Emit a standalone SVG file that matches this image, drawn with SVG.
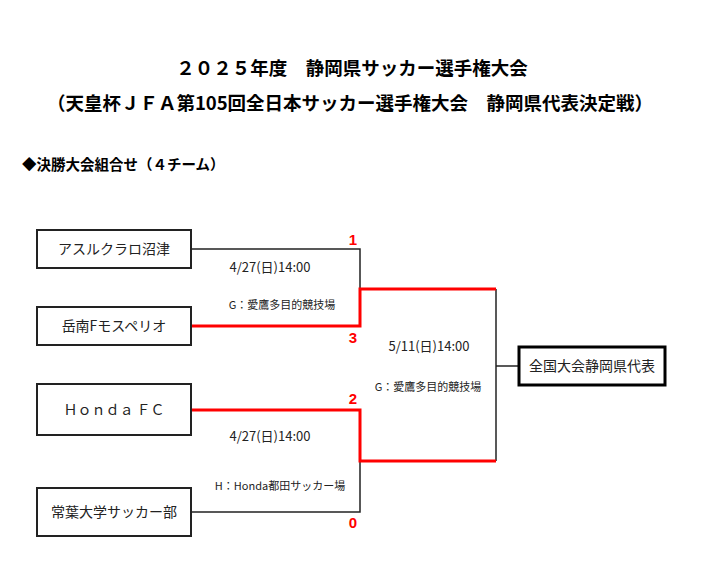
<svg xmlns="http://www.w3.org/2000/svg" width="720" height="588" viewBox="0 0 720 588">
<style>
text{font-family:"Noto Sans CJK JP","Liberation Sans",sans-serif;fill:#222}
.t{font-size:18.5px;font-weight:bold;text-anchor:middle;fill:#000}
.b{fill:#fff;stroke:#222;stroke-width:2}
.n{font-size:14px;text-anchor:middle}
.s{font-size:11px;text-anchor:middle}
.d{font-size:13px;text-anchor:middle}
.r{font-size:15px;font-weight:bold;fill:#f00;text-anchor:middle;font-family:"Liberation Sans",sans-serif}
.k{fill:none;stroke:#222;stroke-width:1.5}
.red{fill:none;stroke:#f00;stroke-width:3}
</style>
<rect width="720" height="588" fill="#fff"/>
<text class="t" x="352" y="75">２０２５年度　静岡県サッカー選手権大会</text>
<text class="t" x="350" y="110">（天皇杯ＪＦＡ第105回全日本サッカー選手権大会　静岡県代表決定戦）</text>
<text x="22" y="170" style="font-size:14.5px;font-weight:bold;fill:#000">◆決勝大会組合せ（４チーム）</text>
<g id="connectors">
<polyline class="k" points="191,249 360,249 360,289"/>
<polyline class="k" points="191,512 360,512 360,461"/>
<polyline class="k" points="496,289 496,461"/>
<line class="k" x1="496" y1="366" x2="518" y2="366"/>
<polyline class="red" points="191,326 360,326 360,289 496,289"/>
<polyline class="red" points="191,410 360,410 360,461 496,461"/>
</g>
<g id="labels">
<text class="r" x="353" y="245">1</text>
<text class="r" x="353" y="343">3</text>
<text class="r" x="353" y="404">2</text>
<text class="r" x="353" y="528">0</text>
<text class="d" x="270" y="272">4/27(日)14:00</text>
<text class="s" x="282" y="309">G：愛鷹多目的競技場</text>
<text class="d" x="429" y="351">5/11(日)14:00</text>
<text class="s" x="428" y="391">G：愛鷹多目的競技場</text>
<text class="d" x="270" y="441">4/27(日)14:00</text>
<text class="s" x="280" y="490">H：Honda都田サッカー場</text>
</g>
<g id="n1"><rect class="b" x="37" y="230" width="154" height="38"/><text class="n" x="114" y="254">アスルクラロ沼津</text></g>
<g id="n2"><rect class="b" x="37" y="307" width="154" height="38"/><text class="n" x="114" y="331">岳南Fモスペリオ</text></g>
<g id="n3"><rect class="b" x="37" y="384" width="154" height="51"/><text class="n" x="114" y="415">Ｈｏｎｄａ ＦＣ</text></g>
<g id="n4"><rect class="b" x="37" y="488" width="154" height="48"/><text class="n" x="114" y="517">常葉大学サッカー部</text></g>
<g id="n5"><rect x="519" y="347" width="146" height="38" fill="#fff" stroke="#000" stroke-width="3"/><text class="n" x="592" y="371">全国大会静岡県代表</text></g>
</svg>
